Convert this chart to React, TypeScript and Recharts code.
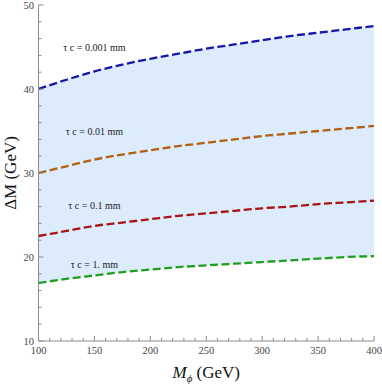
import { ComposedChart, Area, Line, XAxis, YAxis, ReferenceDot } from "recharts";

// M_phi (GeV) sample points and Delta M (GeV) for each decay length
const mPhi = [100, 125, 150, 175, 200, 225, 250, 275, 300, 325, 350, 375, 400];
const dm0001 = [40.0, 41.1, 42.1, 42.9, 43.6, 44.2, 44.8, 45.3, 45.8, 46.3, 46.7, 47.1, 47.5];
const dm001 = [30.0, 30.8, 31.6, 32.2, 32.7, 33.2, 33.6, 34.0, 34.4, 34.7, 35.0, 35.3, 35.6];
const dm01 = [22.5, 23.1, 23.7, 24.1, 24.5, 24.9, 25.2, 25.5, 25.8, 26.0, 26.3, 26.5, 26.7];
const dm1 = [16.9, 17.4, 17.8, 18.2, 18.5, 18.8, 19.0, 19.2, 19.4, 19.6, 19.8, 20.0, 20.1];

const xTicks = Array.from({ length: 31 }, (_, i) => 100 + i * 10);
const yTicks = Array.from({ length: 21 }, (_, i) => 10 + i * 2);

const curveLabels = [
    { text: "τ c = 0.001 mm", y: 45.0 },
    { text: "τ c = 0.01 mm", y: 35.0 },
    { text: "τ c = 0.1 mm", y: 26.1 },
    { text: "τ c = 1. mm", y: 19.1 },
];

const data = mPhi.map((m, i) => ({
    m,
    a: dm0001[i],
    b: dm001[i],
    c: dm01[i],
    d: dm1[i],
}));

const SERIF = "'Liberation Serif', 'Times New Roman', serif";
const FRAME = "#8c8c8c";

function BottomTick({ x, y, payload }: any) {
    const v = payload.value;
    const major = v % 50 === 0;
    return (
        <g>
            <line x1={x} y1={y} x2={x} y2={y - (major ? 5 : 3)} stroke={FRAME} strokeWidth={1} />
            {major && (
                <text x={x} y={y + 12.5} textAnchor="middle" fontSize={10.5} fontFamily={SERIF} fill="#444">
                    {v}
                </text>
            )}
        </g>
    );
}

function TopTick({ x, y, payload }: any) {
    const major = payload.value % 50 === 0;
    return <line x1={x} y1={y} x2={x} y2={y + (major ? 5 : 3)} stroke={FRAME} strokeWidth={1} />;
}

function LeftTick({ x, y, payload }: any) {
    const v = payload.value;
    const major = v % 10 === 0;
    return (
        <g>
            <line x1={x} y1={y} x2={x + (major ? 5 : 3)} y2={y} stroke={FRAME} strokeWidth={1} />
            {major && (
                <text x={x - 4.5} y={y + 3.5} textAnchor="end" fontSize={10.5} fontFamily={SERIF} fill="#444">
                    {v}
                </text>
            )}
        </g>
    );
}

function RightTick({ x, y, payload }: any) {
    const major = payload.value % 10 === 0;
    return <line x1={x} y1={y} x2={x - (major ? 5 : 3)} y2={y} stroke={FRAME} strokeWidth={1} />;
}

function XLabel({ viewBox }: any) {
    const cx = viewBox.x + viewBox.width / 2;
    return (
        <text x={cx} y={viewBox.y + 37} textAnchor="middle" fontFamily={SERIF} fontSize={17} fill="#111">
            <tspan fontStyle="italic">M</tspan>
            <tspan fontStyle="italic" fontSize={11} dy={4}>ϕ</tspan>
            <tspan dy={-4}> (GeV)</tspan>
        </text>
    );
}

function YLabel({ viewBox }: any) {
    const cy = viewBox.y + viewBox.height / 2;
    return (
        <text
            x={16}
            y={cy}
            transform={`rotate(-90 16 ${cy})`}
            textAnchor="middle"
            fontFamily={SERIF}
            fontSize={17}
            fill="#111"
        >
            ΔM (GeV)
        </text>
    );
}

function CurveLabel({ viewBox, value }: any) {
    return (
        <text x={viewBox.x} y={viewBox.y + 3.5} textAnchor="middle" fontFamily={SERIF} fontSize={10} fill="#222">
            {value}
        </text>
    );
}

export default function App() {
    return (
        <div style={{ position: "absolute", left: 0, top: 0, background: "#fff" }}>
            <ComposedChart width={382} height={384} data={data} margin={{ top: 5, right: 8, left: 0, bottom: 0 }}>
                <XAxis
                    xAxisId="bottom"
                    dataKey="m"
                    type="number"
                    domain={[100, 400]}
                    ticks={xTicks}
                    interval={0}
                    height={43}
                    tickSize={0}
                    tickMargin={0}
                    tick={<BottomTick />}
                    axisLine={{ stroke: FRAME }}
                    tickLine={false}
                    label={<XLabel />}
                />
                <XAxis
                    xAxisId="top"
                    orientation="top"
                    dataKey="m"
                    type="number"
                    domain={[100, 400]}
                    ticks={xTicks}
                    interval={0}
                    height={0}
                    tickSize={0}
                    tickMargin={0}
                    tick={<TopTick />}
                    axisLine={{ stroke: FRAME }}
                    tickLine={false}
                />
                <YAxis
                    yAxisId="left"
                    type="number"
                    domain={[10, 50]}
                    ticks={yTicks}
                    interval={0}
                    width={38.5}
                    tickSize={0}
                    tickMargin={0}
                    tick={<LeftTick />}
                    axisLine={{ stroke: FRAME }}
                    tickLine={false}
                    label={<YLabel />}
                />
                <YAxis
                    yAxisId="right"
                    orientation="right"
                    type="number"
                    domain={[10, 50]}
                    ticks={yTicks}
                    interval={0}
                    width={0}
                    tickSize={0}
                    tickMargin={0}
                    tick={<RightTick />}
                    axisLine={{ stroke: FRAME }}
                    tickLine={false}
                />
                <Area
                    xAxisId="bottom"
                    yAxisId="left"
                    type="monotone"
                    dataKey={(d: any) => [d.d, d.a]}
                    stroke="none"
                    fill="#dcecfc"
                    fillOpacity={1}
                    isAnimationActive={false}
                />
                <Line xAxisId="bottom" yAxisId="left" type="monotone" dataKey="a" stroke="#1616a8" strokeWidth={2.3} strokeDasharray="8 3.5" dot={false} isAnimationActive={false} />
                <Line xAxisId="bottom" yAxisId="left" type="monotone" dataKey="b" stroke="#b3600e" strokeWidth={2.3} strokeDasharray="8 3.5" dot={false} isAnimationActive={false} />
                <Line xAxisId="bottom" yAxisId="left" type="monotone" dataKey="c" stroke="#a81414" strokeWidth={2.3} strokeDasharray="8 3.5" dot={false} isAnimationActive={false} />
                <Line xAxisId="bottom" yAxisId="left" type="monotone" dataKey="d" stroke="#1f9e1f" strokeWidth={2.3} strokeDasharray="8 3.5" dot={false} isAnimationActive={false} />
                {curveLabels.map((l) => (
                    <ReferenceDot
                        key={l.text}
                        xAxisId="bottom"
                        yAxisId="left"
                        x={150}
                        y={l.y}
                        r={0}
                        fill="none"
                        stroke="none"
                        label={<CurveLabel value={l.text} />}
                    />
                ))}
            </ComposedChart>
        </div>
    );
}
